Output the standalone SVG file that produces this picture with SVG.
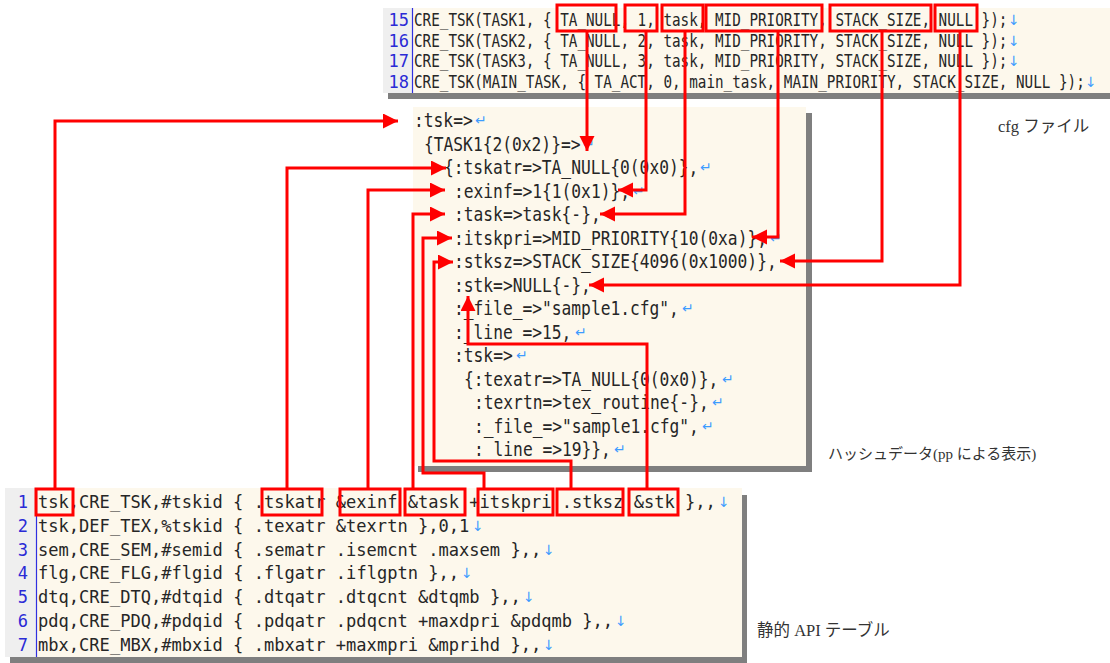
<svg xmlns="http://www.w3.org/2000/svg" width="1110" height="663" viewBox="0 0 1110 663">
<style>
.bg{fill:#fdf8ec}
.sh{fill:#7f7f7f}
.gut{fill:#efefef}
.sep{stroke:#3030e0;stroke-width:1.2}
.code{font-family:"DejaVu Sans Mono","Liberation Mono",monospace;fill:#262626}
.t{font-size:17px}
.m{font-size:19.5px}
.b{font-size:17px}
.ln{font-family:"DejaVu Sans Mono","Liberation Mono",monospace;fill:#2a2ad6}
.ret{font-family:"DejaVu Sans","Noto Sans",sans-serif;fill:#3d9cff;font-size:14px}
.lbl{font-family:"Liberation Serif","Noto Sans CJK JP",serif;font-size:15px;fill:#333}
.lbl2{font-size:16.5px}
.box{fill:none;stroke:#ff0000;stroke-width:3}
.con{fill:none;stroke:#ff0000;stroke-width:3}
</style>
<defs>
<marker id="ah" markerUnits="userSpaceOnUse" markerWidth="16" markerHeight="16" refX="15" refY="7.5" orient="auto">
<path d="M0,0 L15,7.5 L0,15 z" fill="#ff0000"/>
</marker>
</defs>

<g id="cfg-file">
<rect class="sh" x="388" y="93" width="722" height="6"/>
<rect class="bg" x="383" y="8" width="727" height="85"/>
<rect class="gut" x="383" y="8" width="29" height="85"/>
<line class="sep" x1="412.5" y1="8" x2="412.5" y2="93"/>
<g class="ln t" text-anchor="end">
<text x="409" y="26">15</text>
<text x="409" y="46.5">16</text>
<text x="409" y="67">17</text>
<text x="409" y="87.5">18</text>
</g>
<g class="code t">
<text x="414" y="26" textLength="593.4" lengthAdjust="spacingAndGlyphs">CRE_TSK(TASK1, { TA_NULL, 1, task, MID_PRIORITY, STACK_SIZE, NULL });</text>
<text x="414" y="46.5" textLength="593.4" lengthAdjust="spacingAndGlyphs">CRE_TSK(TASK2, { TA_NULL, 2, task, MID_PRIORITY, STACK_SIZE, NULL });</text>
<text x="414" y="67" textLength="593.4" lengthAdjust="spacingAndGlyphs">CRE_TSK(TASK3, { TA_NULL, 3, task, MID_PRIORITY, STACK_SIZE, NULL });</text>
<text x="414" y="87.5" textLength="670.8" lengthAdjust="spacingAndGlyphs">CRE_TSK(MAIN_TASK, { TA_ACT, 0, main_task, MAIN_PRIORITY, STACK_SIZE, NULL });</text>
</g>
<g class="ret">
<text x="1008" y="25">↓</text>
<text x="1008" y="45.5">↓</text>
<text x="1008" y="66">↓</text>
<text x="1085" y="86.5">↓</text>
</g>
</g>

<g id="hash-data">
<rect class="sh" x="418" y="113" width="394" height="359"/>
<rect class="bg" x="413" y="107" width="393" height="359"/>
<g class="code m">
<text x="414" y="127" textLength="58.7" lengthAdjust="spacingAndGlyphs">:tsk=&gt;</text>
<text x="424" y="150.5" textLength="156.5" lengthAdjust="spacingAndGlyphs">{TASK1{2(0x2)}=&gt;</text>
<text x="444" y="174" textLength="254.3" lengthAdjust="spacingAndGlyphs">{:tskatr=&gt;TA_NULL{0(0x0)},</text>
<text x="454" y="197.5" textLength="176" lengthAdjust="spacingAndGlyphs">:exinf=&gt;1{1(0x1)},</text>
<text x="454" y="221" textLength="146.7" lengthAdjust="spacingAndGlyphs">:task=&gt;task{-},</text>
<text x="454" y="244.5" textLength="313" lengthAdjust="spacingAndGlyphs">:itskpri=&gt;MID_PRIORITY{10(0xa)},</text>
<text x="454" y="268" textLength="322.7" lengthAdjust="spacingAndGlyphs">:stksz=&gt;STACK_SIZE{4096(0x1000)},</text>
<text x="454" y="291.5" textLength="136.9" lengthAdjust="spacingAndGlyphs">:stk=&gt;NULL{-},</text>
<text x="454" y="315" textLength="224.9" lengthAdjust="spacingAndGlyphs">:_file_=&gt;"sample1.cfg",</text>
<text x="454" y="338.5" textLength="117.4" lengthAdjust="spacingAndGlyphs">:_line_=&gt;15,</text>
<text x="454" y="362" textLength="58.7" lengthAdjust="spacingAndGlyphs">:tsk=&gt;</text>
<text x="464" y="385.5" textLength="254.3" lengthAdjust="spacingAndGlyphs">{:texatr=&gt;TA_NULL{0(0x0)},</text>
<text x="474" y="409" textLength="234.7" lengthAdjust="spacingAndGlyphs">:texrtn=&gt;tex_routine{-},</text>
<text x="474" y="432.5" textLength="224.9" lengthAdjust="spacingAndGlyphs">:_file_=&gt;"sample1.cfg",</text>
<text x="474" y="456" textLength="136.9" lengthAdjust="spacingAndGlyphs">:_line_=&gt;19}},</text>
</g>
<g class="ret">
<text x="475" y="125">↵</text>
<text x="583" y="148.5">↵</text>
<text x="700" y="172">↵</text>
<text x="633" y="195.5">↵</text>
<text x="604" y="219">↵</text>
<text x="770" y="242.5">↵</text>
<text x="682" y="313">↵</text>
<text x="575" y="336.5">↵</text>
<text x="516" y="360">↵</text>
<text x="722" y="383.5">↵</text>
<text x="712" y="407">↵</text>
<text x="702" y="430.5">↵</text>
<text x="614" y="454">↵</text>
</g>
</g>

<g id="api-table">
<rect class="sh" x="10" y="495" width="737" height="168"/>
<rect class="bg" x="5" y="488" width="737" height="169"/>
<rect class="gut" x="5" y="488" width="31" height="169"/>
<line class="sep" x1="36.5" y1="488" x2="36.5" y2="657"/>
<g class="ln b" text-anchor="end">
<text x="28" y="508">1</text>
<text x="28" y="531.8">2</text>
<text x="28" y="555.6">3</text>
<text x="28" y="579.4">4</text>
<text x="28" y="603.2">5</text>
<text x="28" y="627">6</text>
<text x="28" y="650.8">7</text>
</g>
<g class="code b">
<text x="38" y="508" textLength="677.8" lengthAdjust="spacingAndGlyphs">tsk,CRE_TSK,#tskid { .tskatr &amp;exinf &amp;task +itskpri .stksz &amp;stk },,</text>
<text x="38" y="531.8" textLength="431.3" lengthAdjust="spacingAndGlyphs">tsk,DEF_TEX,%tskid { .texatr &amp;texrtn },0,1</text>
<text x="38" y="555.6" textLength="503.2" lengthAdjust="spacingAndGlyphs">sem,CRE_SEM,#semid { .sematr .isemcnt .maxsem },,</text>
<text x="38" y="579.4" textLength="421.1" lengthAdjust="spacingAndGlyphs">flg,CRE_FLG,#flgid { .flgatr .iflgptn },,</text>
<text x="38" y="603.2" textLength="482.7" lengthAdjust="spacingAndGlyphs">dtq,CRE_DTQ,#dtqid { .dtqatr .dtqcnt &amp;dtqmb },,</text>
<text x="38" y="627" textLength="575.1" lengthAdjust="spacingAndGlyphs">pdq,CRE_PDQ,#pdqid { .pdqatr .pdqcnt +maxdpri &amp;pdqmb },,</text>
<text x="38" y="650.8" textLength="503.2" lengthAdjust="spacingAndGlyphs">mbx,CRE_MBX,#mbxid { .mbxatr +maxmpri &amp;mprihd },,</text>
</g>
<g class="ret">
<text x="718" y="507">↓</text>
<text x="472" y="530.8">↓</text>
<text x="543" y="554.6">↓</text>
<text x="461" y="578.4">↓</text>
<text x="523" y="602.2">↓</text>
<text x="615" y="626">↓</text>
<text x="543" y="649.8">↓</text>
</g>
</g>

<g id="labels">
<text class="lbl lbl2" x="998" y="132">cfg ファイル</text>
<text class="lbl" x="828" y="459">ハッシュデータ(pp による表示)</text>
<text class="lbl lbl2" x="757" y="636">静的 API テーブル</text>
</g>

<g id="highlights">
<rect class="box" x="557" y="5" width="59" height="26"/>
<rect class="box" x="625" y="5" width="32" height="26"/>
<rect class="box" x="662" y="5" width="41" height="26"/>
<rect class="box" x="706" y="5" width="116" height="26"/>
<rect class="box" x="830" y="5" width="101" height="26"/>
<rect class="box" x="935" y="5" width="42" height="26"/>
<rect class="box" x="36" y="489" width="37" height="26"/>
<rect class="box" x="262" y="489" width="60" height="26"/>
<rect class="box" x="340" y="489" width="60" height="26"/>
<rect class="box" x="405" y="489" width="60" height="26"/>
<rect class="box" x="478" y="489" width="75" height="26"/>
<rect class="box" x="557" y="489" width="66" height="26"/>
<rect class="box" x="629" y="489" width="49" height="26"/>
</g>

<g id="connectors">
<path class="con" marker-end="url(#ah)" d="M55,489 V121 H398"/>
<path class="con" marker-end="url(#ah)" d="M287,489 V168 H446"/>
<path class="con" marker-end="url(#ah)" d="M368,489 V190 H445"/>
<path class="con" marker-end="url(#ah)" d="M413,489 V214 H445"/>
<path class="con" marker-end="url(#ah)" d="M484,489 V473 H423 V238 H452"/>
<path class="con" marker-end="url(#ah)" d="M571,489 V461 H434 V262 H453"/>
<path class="con" marker-end="url(#ah)" d="M647,489 V344 H468 V296"/>
<path class="con" marker-end="url(#ah)" d="M587,31 V151"/>
<path class="con" marker-end="url(#ah)" d="M646,31 V190 H618"/>
<path class="con" marker-end="url(#ah)" d="M685,31 V214 H600"/>
<path class="con" marker-end="url(#ah)" d="M778,31 V237 H752"/>
<path class="con" marker-end="url(#ah)" d="M882,31 V261 H780"/>
<path class="con" marker-end="url(#ah)" d="M960,31 V285 H589"/>
</g>
</svg>
